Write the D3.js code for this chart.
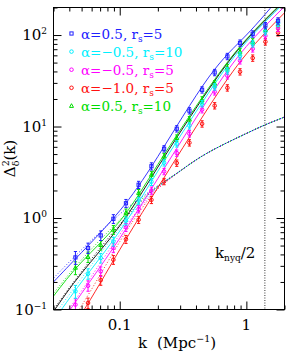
<!DOCTYPE html>
<html>
<head>
<meta charset="utf-8">
<script src="https://cdn.jsdelivr.net/npm/d3@7"></script>
<style>
  html, body { margin: 0; padding: 0; background: #fff; }
  svg { display: block; }
  text { font-family: "DejaVu Serif", "Liberation Serif", serif; }
</style>
</head>
<body>
<svg id="chart" width="291" height="353"></svg>
<script>
// measured k of the simulation points (Mpc^-1)
const kPoints = [0.0447, 0.0562, 0.0708, 0.0891, 0.112, 0.141, 0.178, 0.224, 0.282,
  0.355, 0.447, 0.562, 0.708, 0.891, 1.122, 1.413, 1.778];
// fractional error bar half-size per k
const errFrac = [0.16, 0.13, 0.12, 0.11, 0.10, 0.09, 0.09, 0.08, 0.08,
  0.08, 0.08, 0.08, 0.08, 0.08, 0.08, 0.08, 0.08];

// measured Delta^2 per model
const ptsA05r5 = [0.371, 0.470, 0.645, 0.98, 1.45, 2.31, 3.68, 5.72, 9.46, 14.9, 25.2, 39.0, 58.4, 81.8, 103, 127, 143];
const ptsAm05r10 = [0.158, 0.246, 0.366, 0.555, 0.934, 1.55, 2.49, 4.02, 6.48, 10.2, 17.8, 27.2, 40.7, 59.4, 80.3, 109, 135];
const ptsAm05r5 = [0.113, 0.182, 0.261, 0.470, 0.793, 1.25, 2.00, 3.23, 5.13, 8.34, 15.3, 24.0, 35.9, 52.4, 70.8, 98.3, 119];
const ptsAm10r5 = [null, 0.118, 0.209, 0.350, 0.586, 0.958, 1.58, 2.51, 3.99, 6.65, 10.7, 16.9, 26.5, 39.7, 56.1, 84.5, 106];
const ptsA05r10 = [0.286, 0.375, 0.507, 0.745, 1.14, 1.88, 2.97, 4.71, 7.49, 11.9, 19.6, 29.4, 44.0, 65.7, 84.5, 114, 130];

// nonlinear fits (solid)
const kFit = [0.03, 0.05, 0.1, 0.2, 0.5, 1, 2];
const fitA05r5 = [0.20, 0.42, 1.2, 4.7, 34, 100, 300];
const fitA05r10 = [0.14, 0.33, 0.92, 3.85, 26, 90, 240];
const fitRef = [0.095, 0.25, 0.82, 3.6, 25, 88, 235];
const fitAm05r10 = [0.075, 0.2, 0.72, 3.25, 23, 84, 225];
const fitAm05r5 = [0.055, 0.15, 0.6, 2.7, 20, 75, 205];
const fitAm10r5 = [0.035, 0.09, 0.45, 2.15, 16, 62, 175];

// linear theory (dotted)
const kLin = [0.03, 0.05, 0.1, 0.15, 0.2, 0.3, 0.5, 1, 1.4, 2];
const linA05r5 = [0.22, 0.45, 1.1, 1.7, 2.25, 3.27, 5.2, 8.4, 10.4, 12.7];
const linA05r10 = [0.15, 0.35, 0.95, 1.62, 2.23, 3.27, 5.2, 8.4, 10.4, 12.7];
const linRef = [0.1, 0.26, 0.85, 1.55, 2.2, 3.27, 5.2, 8.4, 10.4, 12.7];
const linAm05r10 = [0.085, 0.22, 0.77, 1.47, 2.17, 3.26, 5.2, 8.4, 10.4, 12.7];
const linAm05r5 = [0.06, 0.16, 0.66, 1.38, 2.12, 3.26, 5.2, 8.4, 10.4, 12.7];
const linAm10r5 = [0.04, 0.11, 0.55, 1.28, 2.08, 3.25, 5.2, 8.4, 10.4, 12.7];

const kNyqHalf = 1.4;

// legend
const legendAlpha = ["0.5", "\u22120.5", "\u22120.5", "\u22121.0", "0.5"];
const legendRs = ["5", "10", "5", "5", "10"];

const xMajor = [0.1, 1];
const xMinor = [0.03, 0.04, 0.05, 0.06, 0.07, 0.08, 0.09, 0.2, 0.3, 0.4, 0.5, 0.6, 0.7, 0.8, 0.9, 2];
const xTickLabels = ["0.1", "1"];
const yMajor = [0.1, 1, 10, 100];
const yMinor = [0.2, 0.3, 0.4, 0.5, 0.6, 0.7, 0.8, 0.9, 2, 3, 4, 5, 6, 7, 8, 9,
  20, 30, 40, 50, 60, 70, 80, 90, 200];
const yExp = ["\u22121", "0", "1", "2"];

const colors = { blue: "#2020ff", green: "#00dd00", cyan: "#00f0ff", magenta: "#ff00ff", red: "#ff1010", black: "#000" };

const models = [
  { pts: ptsA05r5, color: colors.blue, shape: "square" },
  { pts: ptsAm05r10, color: colors.cyan, shape: "circle" },
  { pts: ptsAm05r5, color: colors.magenta, shape: "circle" },
  { pts: ptsAm10r5, color: colors.red, shape: "circle" },
  { pts: ptsA05r10, color: colors.green, shape: "triangle" }
];

const svg = d3.select("#chart");
const box = { left: 53.5, right: 284.5, top: 7.5, bottom: 309.5 };

const x = d3.scaleLog().domain([0.03, 2]).range([box.left, box.right]);
const y = d3.scaleLog().domain([0.1, 200]).range([box.bottom, box.top]);

svg.append("clipPath").attr("id", "clip")
  .append("rect").attr("x", box.left).attr("y", box.top)
  .attr("width", box.right - box.left).attr("height", box.bottom - box.top);

const plot = svg.append("g").attr("clip-path", "url(#clip)");

const curve = d3.line()
  .defined(d => d[1] != null)
  .x(d => x(d[0])).y(d => y(d[1]))
  .curve(d3.curveNatural);

const pairs = (ks, vs) => ks.map((k, i) => [k, vs[i]]);

// dotted linear-theory curves (phase shifted so the merged bundle shows every colour)
const linCurves = [
  [linAm10r5, colors.red], [linAm05r5, colors.magenta], [linAm05r10, colors.cyan],
  [linRef, colors.black], [linA05r10, colors.green], [linA05r5, colors.blue]
];
linCurves.forEach(([vals, c], i) => {
  plot.append("path")
    .attr("d", curve(pairs(kLin, vals)))
    .attr("fill", "none").attr("stroke", c).attr("stroke-width", 0.9)
    .attr("stroke-dasharray", "1,2").attr("stroke-dashoffset", i * 0.5);
});

// solid nonlinear curves
const fitCurves = [
  [fitAm10r5, colors.red], [fitAm05r5, colors.magenta], [fitAm05r10, colors.cyan],
  [fitA05r10, colors.green], [fitRef, colors.black], [fitA05r5, colors.blue]
];
fitCurves.forEach(([vals, c]) => {
  plot.append("path")
    .attr("d", curve(pairs(kFit, vals)))
    .attr("fill", "none").attr("stroke", c).attr("stroke-width", 0.9);
});

// k_nyq / 2
svg.append("line")
  .attr("x1", x(kNyqHalf)).attr("x2", x(kNyqHalf))
  .attr("y1", box.top).attr("y2", box.bottom)
  .attr("stroke", "#000").attr("stroke-width", 0.8).attr("stroke-dasharray", "1,1.5");

const marker = (g, shape, cx, cy, color) => {
  if (shape === "square") {
    g.append("rect").attr("x", cx - 1.6).attr("y", cy - 1.6).attr("width", 3.2).attr("height", 3.2)
      .attr("fill", "none").attr("stroke", color).attr("stroke-width", 1);
  } else if (shape === "circle") {
    g.append("circle").attr("cx", cx).attr("cy", cy).attr("r", 1.8)
      .attr("fill", "none").attr("stroke", color).attr("stroke-width", 1);
  } else {
    g.append("path").attr("d", `M${cx},${cy - 2.2}L${cx + 2},${cy + 1.5}L${cx - 2},${cy + 1.5}Z`)
      .attr("fill", "none").attr("stroke", color).attr("stroke-width", 1);
  }
};

// points with error bars
const ptsLayer = svg.append("g").attr("clip-path", "url(#clip)");
[...models].reverse().forEach(m => {
  const g = ptsLayer.append("g");
  m.pts.forEach((v, i) => {
    if (v == null) return;
    const cx = x(kPoints[i]);
    const lo = y(v * (1 - errFrac[i])), hi = y(v * (1 + errFrac[i]));
    g.append("line").attr("x1", cx).attr("x2", cx).attr("y1", lo).attr("y2", hi)
      .attr("stroke", m.color).attr("stroke-width", 1);
    [lo, hi].forEach(yy => g.append("line")
      .attr("x1", cx - 1.6).attr("x2", cx + 1.6).attr("y1", yy).attr("y2", yy)
      .attr("stroke", m.color).attr("stroke-width", 1));
    marker(g, m.shape, cx, y(v), m.color);
  });
});

// axes: ticks inward on all four sides
const axisG = svg.append("g");
const noLabel = () => "";
[
  [d3.axisBottom, box.bottom, "x"], [d3.axisTop, box.top, "x"],
  [d3.axisLeft, box.left, "y"], [d3.axisRight, box.right, "y"]
].forEach(([axisFn, pos, dim]) => {
  const sc = dim === "x" ? x : y;
  const minors = dim === "x" ? xMinor : yMinor;
  const majors = dim === "x" ? xMajor : yMajor;
  const tr = dim === "x" ? `translate(0,${pos})` : `translate(${pos},0)`;
  [[minors, 4], [majors, 8]].forEach(([vals, len]) => {
    axisG.append("g").attr("transform", tr)
      .call(axisFn(sc).tickValues(vals).tickSize(-len).tickFormat(noLabel))
      .call(g => g.select(".domain").remove())
      .call(g => g.selectAll(".tick line").attr("stroke-width", 1));
  });
});

svg.append("rect").attr("x", box.left).attr("y", box.top)
  .attr("width", box.right - box.left).attr("height", box.bottom - box.top)
  .attr("fill", "none").attr("stroke", "#000").attr("stroke-width", 1);

// tick labels
xMajor.forEach((k, i) => {
  svg.append("text").attr("x", x(k)).attr("y", 330).attr("text-anchor", "middle")
    .attr("font-family", "Liberation Serif").attr("font-size", 15).text(xTickLabels[i]);
});
yMajor.forEach((v, i) => {
  const t = svg.append("text").attr("x", 47).attr("y", y(v) + 5).attr("text-anchor", "end")
    .attr("font-family", "Liberation Serif").attr("font-size", 15);
  t.append("tspan").text("10");
  t.append("tspan").attr("font-size", 9).attr("dy", -6).text(yExp[i]);
});

// axis titles
const xt = svg.append("text").attr("y", 348).attr("font-size", 15);
xt.append("tspan").attr("x", 138).text("k");
xt.append("tspan").attr("x", 157).text("(Mpc");
xt.append("tspan").attr("font-size", 9.5).attr("dy", -6).text("\u22121");
xt.append("tspan").attr("dy", 6).text(")");

const yt = svg.append("text")
  .attr("transform", `translate(15,${(box.top + box.bottom) / 2}) rotate(-90)`)
  .attr("text-anchor", "middle").attr("font-size", 15);
yt.append("tspan").text("\u0394");
yt.append("tspan").attr("font-size", 9.5).attr("dy", -6).text("2");
yt.append("tspan").attr("font-size", 9.5).attr("dx", -6).attr("dy", 10).text("\u03b4");
yt.append("tspan").attr("dy", -4).text("(k)");

// k_nyq/2 label
const kn = svg.append("text").attr("x", 215).attr("y", 258)
  .attr("font-family", "Liberation Serif").attr("font-size", 15);
kn.append("tspan").text("k");
kn.append("tspan").attr("font-size", 9).attr("dy", 3).text("nyq");
kn.append("tspan").attr("dy", -3).text("/2");

// legend
const legend = svg.append("g");
models.forEach((m, i) => {
  const ly = 33.5 + i * 18.1;
  marker(legend, m.shape, 71.5, ly, m.color);
  const t = legend.append("text").attr("x", 81).attr("y", ly + 5)
    .attr("fill", m.color).attr("font-size", 13.5);
  t.append("tspan").text(`\u03b1=${legendAlpha[i]}, r`);
  t.append("tspan").attr("font-size", 9).attr("dy", 3).text("s");
  t.append("tspan").attr("dy", -3).text(`=${legendRs[i]}`);
});
</script>
</body>
</html>
